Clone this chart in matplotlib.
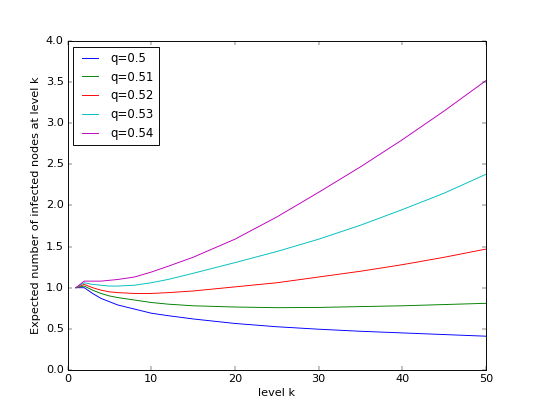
import matplotlib
matplotlib.use('Agg')
import matplotlib.pyplot as plt

plt.style.use('classic')

k = [1, 2, 3, 4, 5, 6, 8, 10, 12, 15, 20, 25, 30, 35, 40, 45, 50]

q50 = [1.0, 1.0, 0.93, 0.87, 0.83, 0.79, 0.74, 0.69, 0.66, 0.62, 0.565, 0.525, 0.495, 0.47, 0.45, 0.43, 0.41]
q51 = [1.0, 1.02, 0.97, 0.93, 0.90, 0.88, 0.85, 0.82, 0.80, 0.78, 0.765, 0.757, 0.76, 0.77, 0.78, 0.795, 0.81]
q52 = [1.0, 1.04, 1.00, 0.97, 0.95, 0.94, 0.93, 0.93, 0.94, 0.96, 1.01, 1.06, 1.13, 1.20, 1.28, 1.37, 1.47]
q53 = [1.0, 1.06, 1.04, 1.03, 1.02, 1.02, 1.03, 1.06, 1.10, 1.175, 1.305, 1.44, 1.59, 1.76, 1.95, 2.15, 2.38]
q54 = [1.0, 1.08, 1.08, 1.08, 1.09, 1.10, 1.13, 1.19, 1.26, 1.37, 1.59, 1.86, 2.16, 2.47, 2.80, 3.15, 3.52]

labels = ['q=0.5', 'q=0.51', 'q=0.52', 'q=0.53', 'q=0.54']
colors = ['b', 'g', 'r', 'c', 'm']

fig = plt.figure(figsize=(8, 411 / 67.5), dpi=67.5)
ax = fig.add_subplot(111)
for ys, lab, col in zip([q50, q51, q52, q53, q54], labels, colors):
    ax.plot(k, ys, color=col, label=lab)

ax.set_xlim(0, 50)
ax.set_ylim(0, 4)
ax.set_xlabel('level k')
ax.set_ylabel('Expected number of infected nodes at level k')
ax.legend(loc='upper left', fontsize=12.5)

fig.savefig('out.png', dpi=67.5)
